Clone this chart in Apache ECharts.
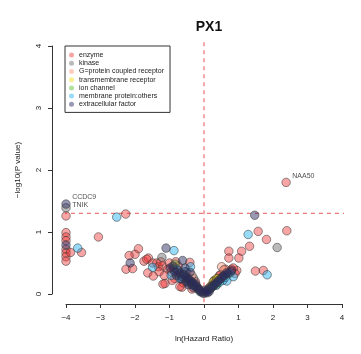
<!DOCTYPE html>
<html>
<head>
<meta charset="utf-8">
<script src="https://cdn.jsdelivr.net/npm/echarts@6/dist/echarts.min.js"></script>
<style>html,body{margin:0;padding:0;background:#fff}#c{width:361px;height:354px}</style>
</head>
<body>
<div id="c"></div>
<script>
// ---- data (x = ln(Hazard Ratio), y = -log10(P value)) ----
var categories = ['enzyme','kinase','G=protein coupled receptor','transmembrane receptor','ion channel','membrane protein:others','extracellular factor'];
var xTickLabels = ['\u22124','\u22123','\u22122','\u22121','0','1','2','3','4'];
var yTickLabels = ['0','1','2','3','4'];
var pThreshold = 1.301;

var enzyme = [
  [-4.0,1.26],[-4.0,0.99],[-4.0,0.92],[-4.0,0.86],[-4.0,0.72],[-4.0,0.66],[-4.0,0.60],[-4.0,0.53],
  [-3.87,0.67],[-3.55,0.67],[-3.06,0.92],[-2.27,1.29],
  [-1.90,0.73],[-2.0,0.64],[-2.17,0.62],[-2.26,0.40],[-2.07,0.41],[-1.74,0.53],[-1.61,0.58],
  [-1.66,0.56],[-1.49,0.50],[-1.37,0.50],[-1.63,0.34],[-1.47,0.29],[-1.32,0.44],[-1.13,0.17],
  [-1.19,0.16],[-0.64,0.11],[-0.41,0.51],[-1.2,0.45],[-1.05,0.40],[-0.95,0.36],[-1.0,0.50],
  [-0.75,0.45],[-0.85,0.25],[-0.6,0.18],[-0.7,0.12],[-0.35,0.08],[-1.15,0.30],[-0.5,0.35],[-0.25,0.20],
  [2.38,1.80],[1.57,1.01],[2.40,1.02],[1.81,0.88],[1.32,0.77],[1.09,0.69],[1.01,0.58],
  [0.72,0.69],[0.72,0.58],[1.49,0.37],[1.72,0.38],[0.95,0.38],[0.80,0.40],[0.65,0.35],
  [0.45,0.30],[0.30,0.22],[0.55,0.28],[0.85,0.42],[0.15,0.10],[0.90,0.33],
  [-0.88,0.40],[-0.78,0.34],[-0.68,0.30],[-0.58,0.26],[-0.48,0.22],[-0.38,0.16],[-0.22,0.13],
  [-0.15,0.07],[0.08,0.05],[0.22,0.14],[0.38,0.24],[0.48,0.31],[0.62,0.40],[0.78,0.36],
  [-1.30,0.36],[-1.25,0.52],[-0.82,0.52],[-0.92,0.22]
];
var kinase = [[-4.0,1.39],[-1.22,0.59],[2.12,0.75],[-0.30,0.25],[0.30,0.20]];
var gpcr = [[0.51,0.44],[0.58,0.39],[-0.35,0.30]];
var transmembrane = [[0.27,0.20],[0.37,0.25],[0.20,0.12],[0.32,0.18],[0.41,0.25]];
var ionChannel = [[-0.84,0.48],[0.25,0.13],[0.37,0.15]];
var membraneOther = [
  [-3.66,0.74],[-2.53,1.24],[-1.49,0.43],[-0.87,0.70],[-0.39,0.44],[1.28,0.96],[1.83,0.31],
  [0.85,0.28],[0.66,0.21],[-0.70,0.25],[-0.45,0.20],[-0.25,0.12],[0.35,0.14],[0.55,0.22],
  [0.75,0.34],[-0.95,0.30],[-0.55,0.36],[-0.62,0.28],[-0.33,0.15],[0.45,0.19],[0.62,0.27],
  [-0.78,0.40],[0.18,0.08],[-0.12,0.04]
];
var extracellular = [
  [-4.0,1.45],[-4.0,0.79],[-2.14,0.50],[-1.10,0.74],[-0.62,0.54],[1.47,1.27],
  [-0.75,0.38],[-0.60,0.32],[-0.50,0.27],[-0.42,0.22],[-0.35,0.18],[-0.28,0.14],[-0.20,0.10],
  [-0.12,0.06],[-0.05,0.02],[-0.80,0.30],[-0.65,0.24],[-0.52,0.20],[-0.45,0.15],[-0.30,0.10],
  [-0.90,0.45],[-0.55,0.42],[-0.40,0.35],[0.0,0.01],[0.05,0.03],[0.12,0.07],[0.20,0.10],
  [0.30,0.15],[0.40,0.20],[0.50,0.25],[0.60,0.30],[0.70,0.33],[0.15,0.04],[0.25,0.12],
  [-0.70,0.34],[-0.56,0.29],[-0.46,0.25],[-0.36,0.20],[-0.24,0.16],[-0.16,0.09],[-0.08,0.04],
  [0.03,0.06],[0.10,0.02],[0.34,0.17],[0.44,0.23],[0.55,0.29],[0.65,0.34],[0.80,0.38],
  [-0.98,0.42],[-0.85,0.36]
];
var seriesData = [enzyme, kinase, gpcr, transmembrane, ionChannel, membraneOther, extracellular];
var geneLabels = [
  {series:6, index:0, text:'CCDC9', offset:[0,-7]},
  {series:1, index:0, text:'TNIK', offset:[0,-3]},
  {series:0, index:41, text:'NAA50', offset:[0,-6]}
];

// ---- styles ----
var colors = ['rgba(238,50,50,0.55)','rgba(110,110,110,0.6)','rgba(250,150,125,0.6)','rgba(240,222,20,0.6)',
              'rgba(90,190,50,0.6)','rgba(40,180,240,0.6)','rgba(40,40,95,0.6)'];
var FONT = 'Liberation Sans, Arial, Helvetica, sans-serif';

var series = [];
series.push({
  type:'line', data:[[-4.32,pThreshold],[4.32,pThreshold]], clip:false, symbol:'none', silent:true,
  lineStyle:{color:'#F07070', width:1.2, type:[4,4]}, animation:false, z:1
});
series.push({
  type:'line', data:[[0,4.06],[0,-0.16]], clip:false, symbol:'none', silent:true,
  lineStyle:{color:'#F07070', width:1.2, type:[4,4]}, animation:false, z:1
});
categories.forEach(function(name, si){
  var data = seriesData[si].map(function(p, i){
    var lab = geneLabels.filter(function(g){return g.series===si && g.index===i;})[0];
    if (!lab) return p;
    return {value:p, label:{show:true, formatter:lab.text, position:'right', distance:1.5,
            offset:lab.offset, fontSize:7, color:'#222', fontFamily:FONT}};
  });
  series.push({
    type:'scatter', name:name, data:data, symbolSize:8.5, clip:false, z:2,
    itemStyle:{color:colors[si], borderColor:'rgba(55,55,55,0.85)', borderWidth:0.8},
    emphasis:{disabled:true}, animation:false
  });
});

var chart = echarts.init(document.getElementById('c'), null, {renderer:'canvas'});
chart.setOption({
  animation:false,
  backgroundColor:'#fff',
  textStyle:{fontFamily:FONT},
  title:{text:'PX1', left:204, top:15, textAlign:'center',
         textStyle:{fontSize:14, fontWeight:'bold', color:'#111', fontFamily:FONT}},
  legend:{
    orient:'vertical', left:65, top:46, padding:[5,6,4,4], itemGap:0, itemWidth:5, itemHeight:5,
    icon:'circle', borderColor:'#333', borderWidth:1, borderRadius:0,
    itemStyle:{borderWidth:0},
    textStyle:{fontSize:7, lineHeight:8.2, color:'#222', fontFamily:FONT},
    data:categories
  },
  grid:{left:66, right:19, top:46, bottom:60},
  xAxis:{
    type:'value', min:-4, max:4, interval:1, offset:10,
    name:'ln(Hazard Ratio)', nameLocation:'middle', nameGap:31,
    nameTextStyle:{fontSize:8, color:'#222', fontFamily:FONT},
    axisLine:{onZero:false, lineStyle:{color:'#333', width:1}},
    axisTick:{length:4, lineStyle:{color:'#333'}},
    axisLabel:{fontSize:8, color:'#222', margin:10, fontFamily:FONT,
      formatter:function(v){return xTickLabels[Math.round(v)+4];}},
    splitLine:{show:false}
  },
  yAxis:{
    type:'value', min:0, max:4, interval:1, offset:14,
    name:'\u2212log10(P value)', nameLocation:'middle', nameGap:30,
    nameTextStyle:{fontSize:8, color:'#222', fontFamily:FONT},
    axisLine:{show:true, onZero:false, lineStyle:{color:'#333', width:1}},
    axisTick:{show:true, length:4, lineStyle:{color:'#333'}},
    axisLabel:{fontSize:8, color:'#222', margin:9, rotate:90, fontFamily:FONT,
      formatter:function(v){return yTickLabels[Math.round(v)];}},
    splitLine:{show:false}
  },
  series:series
});
</script>
</body>
</html>
